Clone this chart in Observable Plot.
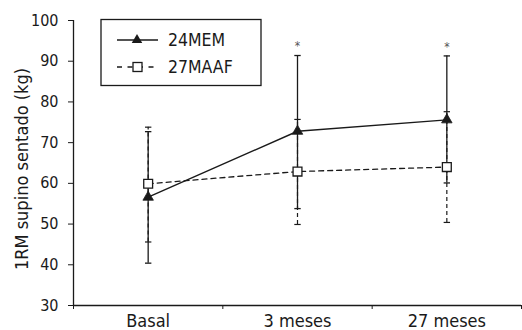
<!DOCTYPE html>
<html>
<head>
<meta charset="utf-8">
<script src="https://cdn.jsdelivr.net/npm/d3@7"></script>
<script src="https://cdn.jsdelivr.net/npm/@observablehq/plot@0.6"></script>
<style>
  html, body { margin: 0; padding: 0; background: #fff; }
  #chart { width: 522px; height: 330px; }
</style>
</head>
<body>
<div id="chart"></div>
<script>
const categories = ["Basal", "3 meses", "27 meses"];
const mem = [56.6, 72.8, 75.6];
const memLow = [40.4, 53.8, 60.1];
const memHigh = [72.7, 91.4, 91.3];
const maaf = [59.9, 62.9, 64.0];
const maafLow = [45.6, 49.9, 50.4];
const maafHigh = [73.8, 75.7, 77.6];
const significant = ["", "*", "*"];
const yTicks = [30, 40, 50, 60, 70, 80, 90, 100];
const seriesNames = ["24MEM", "27MAAF"];
const yLabel = "1RM supino sentado (kg)";

const rows = categories.map((c, i) => ({
  cat: c, pos: i + 0.5,
  mem: mem[i], memLow: memLow[i], memHigh: memHigh[i],
  maaf: maaf[i], maafLow: maafLow[i], maafHigh: maafHigh[i],
  sig: significant[i]
}));
const boundaries = d3.range(categories.length + 1);

const ink = "#1a1a1a";
const font = "'DejaVu Sans Condensed', 'DejaVu Sans', sans-serif";
const cap = { draw(ctx) { ctx.moveTo(-3.2, 0); ctx.lineTo(3.2, 0); } };

const plot = Plot.plot({
  width: 522, height: 330,
  marginLeft: 73, marginRight: 1, marginTop: 20, marginBottom: 25,
  style: { fontFamily: font, fontSize: "16px", color: ink, background: "#fff" },
  x: { type: "linear", domain: [0, categories.length] },
  y: { domain: [30, 100] },
  marks: [
    Plot.axisY(yTicks, { tickSize: 5, tickPadding: 10, label: null, fontSize: 16 }),
    Plot.axisX(boundaries, { tickSize: 4, tickFormat: () => "", label: null }),
    Plot.axisX(rows.map(d => d.pos), { tickSize: 0, tickPadding: 9, label: null, fontSize: 18,
      tickFormat: d => categories[Math.floor(d)] }),
    Plot.ruleY([30], { stroke: ink, strokeWidth: 1.3 }),
    Plot.ruleX([0], { y1: 30, y2: 100, stroke: ink, strokeWidth: 1.3 }),
    Plot.text([yLabel], { frameAnchor: "left", textAnchor: "middle", rotate: -90, dx: -51, dy: 6, fontSize: 18, fill: ink }),
    // 27MAAF error bars (dashed)
    Plot.ruleX(rows, { x: "pos", y1: "maafLow", y2: "maafHigh", stroke: ink, strokeWidth: 1.2, strokeDasharray: "4,3" }),
    Plot.dot(rows, { x: "pos", y: "maafLow", symbol: cap, stroke: ink, strokeWidth: 1.2 }),
    Plot.dot(rows, { x: "pos", y: "maafHigh", symbol: cap, stroke: ink, strokeWidth: 1.2 }),
    // 24MEM error bars (solid)
    Plot.ruleX(rows, { x: "pos", y1: "memLow", y2: "memHigh", stroke: ink, strokeWidth: 1.3 }),
    Plot.dot(rows, { x: "pos", y: "memLow", symbol: cap, stroke: ink, strokeWidth: 1.3 }),
    Plot.dot(rows, { x: "pos", y: "memHigh", symbol: cap, stroke: ink, strokeWidth: 1.3 }),
    // lines
    Plot.line(rows, { x: "pos", y: "maaf", stroke: ink, strokeWidth: 1.3, strokeDasharray: "5,4" }),
    Plot.line(rows, { x: "pos", y: "mem", stroke: ink, strokeWidth: 1.4 }),
    // markers
    Plot.dot(rows, { x: "pos", y: "maaf", symbol: "square", r: 5, fill: "#fff", stroke: ink, strokeWidth: 1.3 }),
    Plot.dot(rows, { x: "pos", y: "mem", symbol: "triangle", r: 3.9, fill: ink, stroke: ink, strokeWidth: 0.8 }),
    // significance
    Plot.text(rows, { x: "pos", y: "memHigh", text: "sig", dy: -9, fontSize: 12, fill: "#555" })
  ]
});

// Legend (boxed, inside the plot area)
const svg = d3.select(plot);
const lg = svg.append("g").attr("font-family", font).attr("text-anchor", "start");
lg.append("rect").attr("x", 101).attr("y", 19.5).attr("width", 160).attr("height", 66)
  .attr("fill", "#fff").attr("stroke", ink).attr("stroke-width", 1.3);
const rowsY = [40, 67];
lg.append("line").attr("x1", 117).attr("x2", 158).attr("y1", rowsY[0]).attr("y2", rowsY[0])
  .attr("stroke", ink).attr("stroke-width", 1.4);
lg.append("path").attr("d", d3.symbol(d3.symbolTriangle, Math.PI * 3.9 * 3.9)())
  .attr("transform", `translate(137,${rowsY[0]})`).attr("fill", ink);
lg.append("line").attr("x1", 117).attr("x2", 158).attr("y1", rowsY[1]).attr("y2", rowsY[1])
  .attr("stroke", ink).attr("stroke-width", 1.3).attr("stroke-dasharray", "5,5.5");
lg.append("rect").attr("x", 133).attr("y", rowsY[1] - 4.5).attr("width", 9).attr("height", 9)
  .attr("fill", "#fff").attr("stroke", ink).attr("stroke-width", 1.3);
seriesNames.forEach((name, i) => {
  lg.append("text").attr("x", 168).attr("y", rowsY[i]).attr("dy", "0.35em")
    .attr("fill", ink).attr("font-size", 17.5).text(name);
});

document.getElementById("chart").appendChild(plot);
</script>
</body>
</html>
